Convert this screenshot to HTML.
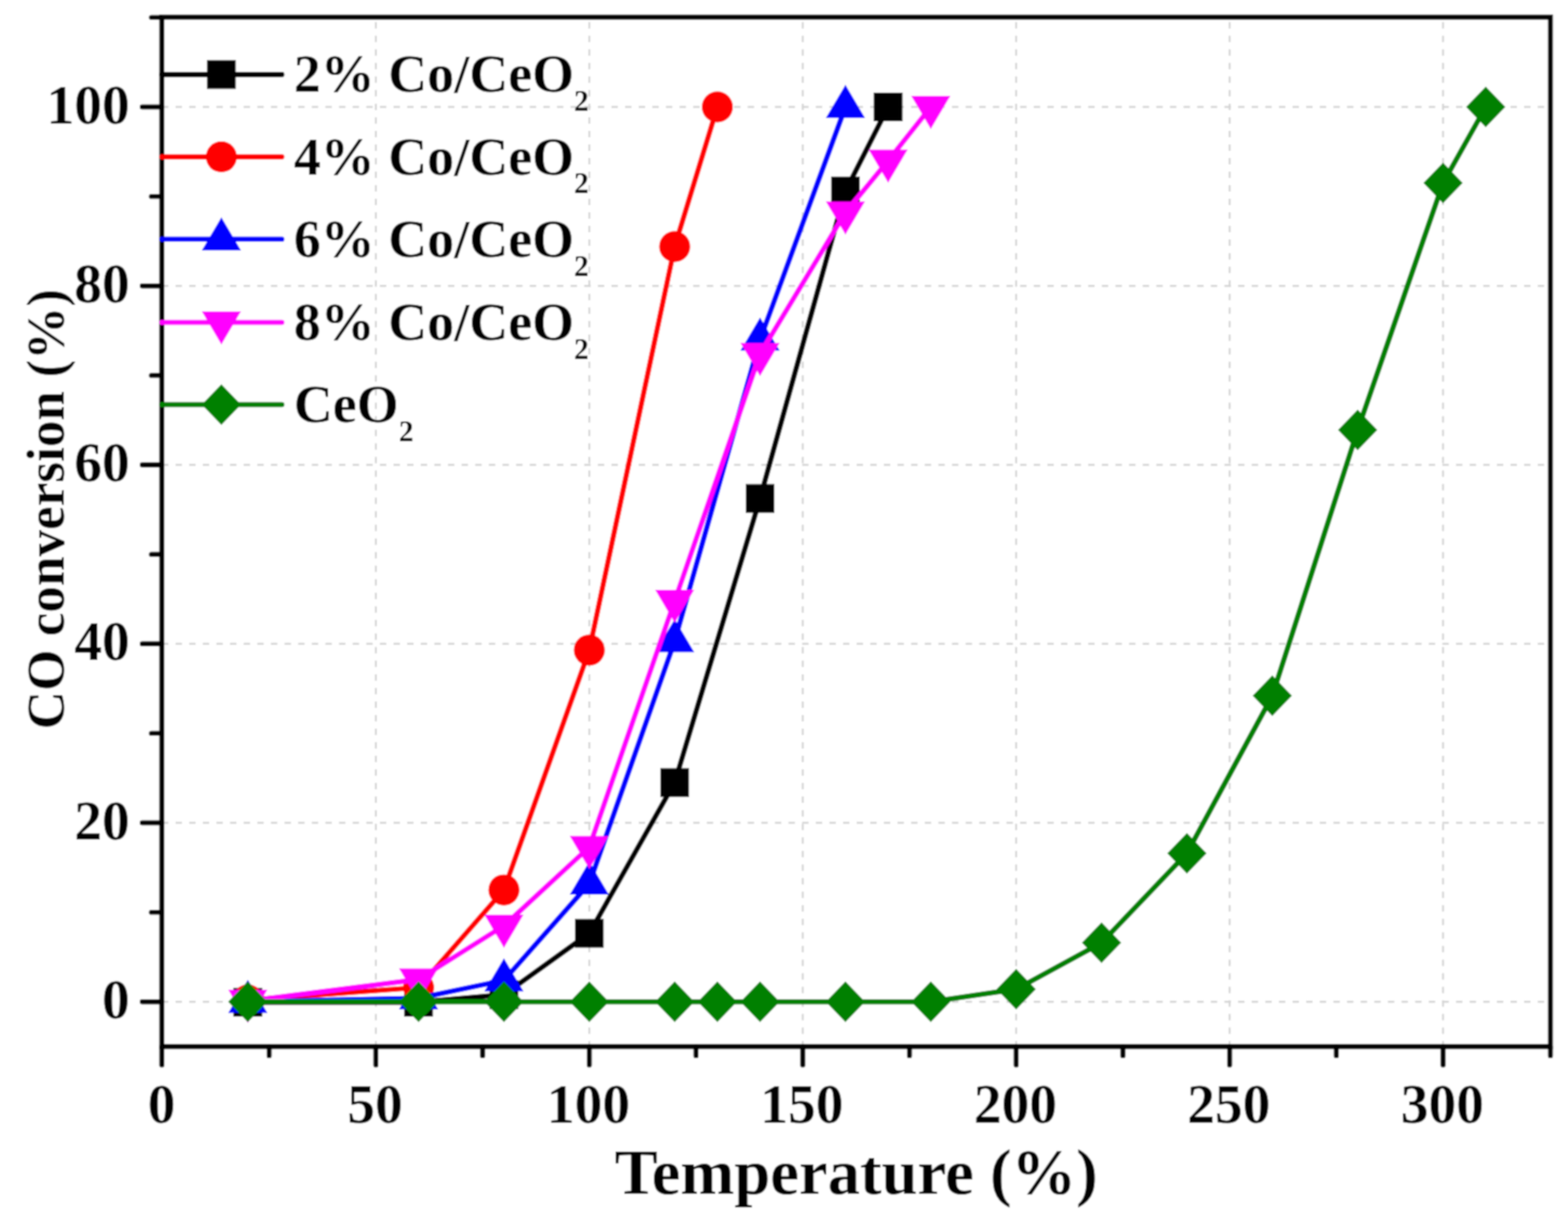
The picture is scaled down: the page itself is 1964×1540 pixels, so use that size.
<!DOCTYPE html>
<html><head><meta charset="utf-8"><title>CO conversion vs Temperature</title>
<style>html,body{margin:0;padding:0;background:#fff;overflow:hidden}svg{display:block}</style></head>
<body><svg width="1964" height="1540" viewBox="0 0 1964 1540">
<defs><filter id="soft" x="0" y="0" width="1964" height="1540" filterUnits="userSpaceOnUse"><feConvolveMatrix order="5 1" kernelMatrix="0.03766 0.23994 0.44481 0.23994 0.03766" preserveAlpha="true" edgeMode="duplicate" result="h"/><feConvolveMatrix in="h" order="1 5" kernelMatrix="0.03766 0.23994 0.44481 0.23994 0.03766" preserveAlpha="true" edgeMode="duplicate"/></filter></defs>
<g filter="url(#soft)">
<rect x="0" y="0" width="1964" height="1540" fill="#ffffff"/>
<g stroke="#d4d4d4" stroke-width="2.4"><line x1="203.46" y1="1255.30" x2="1941.17" y2="1255.30" stroke-dasharray="8 9.062" stroke-dashoffset="0.61"/><line x1="203.46" y1="1031.04" x2="1941.17" y2="1031.04" stroke-dasharray="8 9.062" stroke-dashoffset="0.61"/><line x1="203.46" y1="806.78" x2="1941.17" y2="806.78" stroke-dasharray="8 9.062" stroke-dashoffset="0.61"/><line x1="203.46" y1="582.52" x2="1941.17" y2="582.52" stroke-dasharray="8 9.062" stroke-dashoffset="0.61"/><line x1="203.46" y1="358.26" x2="1941.17" y2="358.26" stroke-dasharray="8 9.062" stroke-dashoffset="0.61"/><line x1="203.46" y1="134.00" x2="1941.17" y2="134.00" stroke-dasharray="8 9.062" stroke-dashoffset="0.61"/><line x1="470.80" y1="21.87" x2="470.80" y2="1311.37" stroke-dasharray="8 9.024" stroke-dashoffset="11.16"/><line x1="738.14" y1="21.87" x2="738.14" y2="1311.37" stroke-dasharray="8 9.024" stroke-dashoffset="11.16"/><line x1="1005.48" y1="21.87" x2="1005.48" y2="1311.37" stroke-dasharray="8 9.024" stroke-dashoffset="11.16"/><line x1="1272.82" y1="21.87" x2="1272.82" y2="1311.37" stroke-dasharray="8 9.024" stroke-dashoffset="11.16"/><line x1="1540.16" y1="21.87" x2="1540.16" y2="1311.37" stroke-dasharray="8 9.024" stroke-dashoffset="11.16"/><line x1="1807.50" y1="21.87" x2="1807.50" y2="1311.37" stroke-dasharray="8 9.024" stroke-dashoffset="11.16"/></g>
<polyline points="310.40,1255.86 524.27,1255.86 631.20,1246.33 738.14,1169.52 845.08,980.58 952.01,624.57 1058.95,239.40 1112.42,134.00" fill="none" stroke="#000000" stroke-width="6.6" stroke-linejoin="round"/>
<rect x="292.40" y="1237.86" width="36" height="36" fill="#000000"/><rect x="506.27" y="1237.86" width="36" height="36" fill="#000000"/><rect x="613.20" y="1228.33" width="36" height="36" fill="#000000"/><rect x="720.14" y="1151.52" width="36" height="36" fill="#000000"/><rect x="827.08" y="962.58" width="36" height="36" fill="#000000"/><rect x="934.01" y="606.57" width="36" height="36" fill="#000000"/><rect x="1040.95" y="221.40" width="36" height="36" fill="#000000"/><rect x="1094.42" y="116.00" width="36" height="36" fill="#000000"/>
<polyline points="310.40,1253.06 524.27,1237.36 631.20,1115.14 738.14,814.63 845.08,308.92 898.54,134.00" fill="none" stroke="#ff0000" stroke-width="6.6" stroke-linejoin="round"/>
<circle cx="310.40" cy="1253.06" r="19.5" fill="#ff0000"/><circle cx="524.27" cy="1237.36" r="19.5" fill="#ff0000"/><circle cx="631.20" cy="1115.14" r="19.5" fill="#ff0000"/><circle cx="738.14" cy="814.63" r="19.5" fill="#ff0000"/><circle cx="845.08" cy="308.92" r="19.5" fill="#ff0000"/><circle cx="898.54" cy="134.00" r="19.5" fill="#ff0000"/>
<polyline points="310.40,1255.30 524.27,1250.81 631.20,1228.39 738.14,1107.29 845.08,803.42 952.01,425.54 1058.95,134.00" fill="none" stroke="#0000ff" stroke-width="6.6" stroke-linejoin="round"/>
<polygon points="310.40,1227.63 334.90,1269.13 285.90,1269.13" fill="#0000ff"/><polygon points="524.27,1223.15 548.77,1264.65 499.77,1264.65" fill="#0000ff"/><polygon points="631.20,1200.72 655.70,1242.22 606.70,1242.22" fill="#0000ff"/><polygon points="738.14,1079.62 762.64,1121.12 713.64,1121.12" fill="#0000ff"/><polygon points="845.08,775.75 869.58,817.25 820.58,817.25" fill="#0000ff"/><polygon points="952.01,397.87 976.51,439.37 927.51,439.37" fill="#0000ff"/><polygon points="1058.95,106.33 1083.45,147.83 1034.45,147.83" fill="#0000ff"/>
<polyline points="310.40,1254.18 524.27,1227.27 631.20,1159.99 738.14,1061.32 845.08,752.96 952.01,443.48 1058.95,266.31 1112.42,201.28 1165.88,134.00" fill="none" stroke="#ff00ff" stroke-width="6.6" stroke-linejoin="round"/>
<polygon points="285.90,1240.35 334.90,1240.35 310.40,1281.85" fill="#ff00ff"/><polygon points="499.77,1213.43 548.77,1213.43 524.27,1254.93" fill="#ff00ff"/><polygon points="606.70,1146.16 655.70,1146.16 631.20,1187.66" fill="#ff00ff"/><polygon points="713.64,1047.48 762.64,1047.48 738.14,1088.98" fill="#ff00ff"/><polygon points="820.58,739.12 869.58,739.12 845.08,780.62" fill="#ff00ff"/><polygon points="927.51,429.65 976.51,429.65 952.01,471.15" fill="#ff00ff"/><polygon points="1034.45,252.48 1083.45,252.48 1058.95,293.98" fill="#ff00ff"/><polygon points="1087.92,187.44 1136.92,187.44 1112.42,228.94" fill="#ff00ff"/><polygon points="1141.38,120.17 1190.38,120.17 1165.88,161.67" fill="#ff00ff"/>
<polyline points="310.40,1255.30 524.27,1255.30 631.20,1255.30 738.14,1255.30 845.08,1255.30 898.54,1255.30 952.01,1255.30 1058.95,1255.30 1165.88,1255.30 1272.82,1239.60 1379.76,1181.29 1486.69,1069.16 1593.63,871.82 1700.56,538.79 1807.50,229.31 1860.97,134.00" fill="none" stroke="#008000" stroke-width="6.6" stroke-linejoin="round"/>
<polygon points="310.40,1229.80 335.00,1255.30 310.40,1280.80 285.80,1255.30" fill="#008000"/><polygon points="524.27,1229.80 548.87,1255.30 524.27,1280.80 499.67,1255.30" fill="#008000"/><polygon points="631.20,1229.80 655.80,1255.30 631.20,1280.80 606.60,1255.30" fill="#008000"/><polygon points="738.14,1229.80 762.74,1255.30 738.14,1280.80 713.54,1255.30" fill="#008000"/><polygon points="845.08,1229.80 869.68,1255.30 845.08,1280.80 820.48,1255.30" fill="#008000"/><polygon points="898.54,1229.80 923.14,1255.30 898.54,1280.80 873.94,1255.30" fill="#008000"/><polygon points="952.01,1229.80 976.61,1255.30 952.01,1280.80 927.41,1255.30" fill="#008000"/><polygon points="1058.95,1229.80 1083.55,1255.30 1058.95,1280.80 1034.35,1255.30" fill="#008000"/><polygon points="1165.88,1229.80 1190.48,1255.30 1165.88,1280.80 1141.28,1255.30" fill="#008000"/><polygon points="1272.82,1214.10 1297.42,1239.60 1272.82,1265.10 1248.22,1239.60" fill="#008000"/><polygon points="1379.76,1155.79 1404.36,1181.29 1379.76,1206.79 1355.16,1181.29" fill="#008000"/><polygon points="1486.69,1043.66 1511.29,1069.16 1486.69,1094.66 1462.09,1069.16" fill="#008000"/><polygon points="1593.63,846.32 1618.23,871.82 1593.63,897.32 1569.03,871.82" fill="#008000"/><polygon points="1700.56,513.29 1725.16,538.79 1700.56,564.29 1675.96,538.79" fill="#008000"/><polygon points="1807.50,203.81 1832.10,229.31 1807.50,254.81 1782.90,229.31" fill="#008000"/><polygon points="1860.97,108.50 1885.57,134.00 1860.97,159.50 1836.37,134.00" fill="#008000"/>
<g stroke="#000" stroke-width="6.4" stroke-linecap="round" fill="none"><rect x="202.7" y="21.5" width="1739.30" height="1289.90" fill="none" stroke-linejoin="miter"/><line x1="178.20" y1="1255.30" x2="202.70" y2="1255.30"/><line x1="178.20" y1="1031.04" x2="202.70" y2="1031.04"/><line x1="178.20" y1="806.78" x2="202.70" y2="806.78"/><line x1="178.20" y1="582.52" x2="202.70" y2="582.52"/><line x1="178.20" y1="358.26" x2="202.70" y2="358.26"/><line x1="178.20" y1="134.00" x2="202.70" y2="134.00"/><line x1="189.70" y1="1143.17" x2="202.70" y2="1143.17"/><line x1="189.70" y1="918.91" x2="202.70" y2="918.91"/><line x1="189.70" y1="694.65" x2="202.70" y2="694.65"/><line x1="189.70" y1="470.39" x2="202.70" y2="470.39"/><line x1="189.70" y1="246.13" x2="202.70" y2="246.13"/><line x1="189.70" y1="21.87" x2="202.70" y2="21.87"/><line x1="202.70" y1="1311.40" x2="202.70" y2="1334.40"/><line x1="470.80" y1="1311.40" x2="470.80" y2="1334.40"/><line x1="738.14" y1="1311.40" x2="738.14" y2="1334.40"/><line x1="1005.48" y1="1311.40" x2="1005.48" y2="1334.40"/><line x1="1272.82" y1="1311.40" x2="1272.82" y2="1334.40"/><line x1="1540.16" y1="1311.40" x2="1540.16" y2="1334.40"/><line x1="1807.50" y1="1311.40" x2="1807.50" y2="1334.40"/><line x1="337.13" y1="1311.40" x2="337.13" y2="1322.90"/><line x1="604.47" y1="1311.40" x2="604.47" y2="1322.90"/><line x1="871.81" y1="1311.40" x2="871.81" y2="1322.90"/><line x1="1139.15" y1="1311.40" x2="1139.15" y2="1322.90"/><line x1="1406.49" y1="1311.40" x2="1406.49" y2="1322.90"/><line x1="1673.83" y1="1311.40" x2="1673.83" y2="1322.90"/><line x1="1942.00" y1="1311.40" x2="1942.00" y2="1322.90"/></g>
<g font-family="'Liberation Serif', 'Times New Roman', serif" font-weight="bold" font-size="69.5" fill="#000"><text x="162.5" y="1275.80" text-anchor="end">0</text><text x="162.5" y="1051.54" text-anchor="end">20</text><text x="162.5" y="827.28" text-anchor="end">40</text><text x="162.5" y="603.02" text-anchor="end">60</text><text x="162.5" y="378.76" text-anchor="end">80</text><text x="162.5" y="154.50" text-anchor="end">100</text><text x="202.46" y="1406.6" text-anchor="middle">0</text><text x="469.80" y="1406.6" text-anchor="middle">50</text><text x="737.14" y="1406.6" text-anchor="middle">100</text><text x="1004.48" y="1406.6" text-anchor="middle">150</text><text x="1271.82" y="1406.6" text-anchor="middle">200</text><text x="1539.16" y="1406.6" text-anchor="middle">250</text><text x="1806.50" y="1406.6" text-anchor="middle">300</text></g>
<text font-family="'Liberation Serif', 'Times New Roman', serif" font-weight="bold" font-size="81" x="1072.32" y="1496" text-anchor="middle">Temperature (%)</text>
<text font-family="'Liberation Serif', 'Times New Roman', serif" font-weight="bold" font-size="68" transform="translate(79.5,638) rotate(-90)" text-anchor="middle" textLength="552" lengthAdjust="spacingAndGlyphs">CO conversion (%)</text>
<line x1="202.70" y1="93.4" x2="353" y2="93.4" stroke="#000000" stroke-width="6.6" stroke-linecap="round"/>
<rect x="259.30" y="75.40" width="36" height="36" fill="#000000"/>
<text font-family="'Liberation Serif', 'Times New Roman', serif" font-weight="bold" font-size="67.6" x="368" y="115.30" fill="#000">2% Co/CeO<tspan font-size="37" dy="23.8">2</tspan></text>
<line x1="202.70" y1="196.6" x2="353" y2="196.6" stroke="#ff0000" stroke-width="6.6" stroke-linecap="round"/>
<circle cx="277.30" cy="196.60" r="19.5" fill="#ff0000"/>
<text font-family="'Liberation Serif', 'Times New Roman', serif" font-weight="bold" font-size="67.6" x="368" y="218.50" fill="#000">4% Co/CeO<tspan font-size="37" dy="23.8">2</tspan></text>
<line x1="202.70" y1="299.8" x2="353" y2="299.8" stroke="#0000ff" stroke-width="6.6" stroke-linecap="round"/>
<polygon points="277.30,272.13 301.80,313.63 252.80,313.63" fill="#0000ff"/>
<text font-family="'Liberation Serif', 'Times New Roman', serif" font-weight="bold" font-size="67.6" x="368" y="321.70" fill="#000">6% Co/CeO<tspan font-size="37" dy="23.8">2</tspan></text>
<line x1="202.70" y1="404.0" x2="353" y2="404.0" stroke="#ff00ff" stroke-width="6.6" stroke-linecap="round"/>
<polygon points="252.80,390.17 301.80,390.17 277.30,431.67" fill="#ff00ff"/>
<text font-family="'Liberation Serif', 'Times New Roman', serif" font-weight="bold" font-size="67.6" x="368" y="425.90" fill="#000">8% Co/CeO<tspan font-size="37" dy="23.8">2</tspan></text>
<line x1="202.70" y1="507.0" x2="353" y2="507.0" stroke="#008000" stroke-width="6.6" stroke-linecap="round"/>
<polygon points="277.30,481.50 301.90,507.00 277.30,532.50 252.70,507.00" fill="#008000"/>
<text font-family="'Liberation Serif', 'Times New Roman', serif" font-weight="bold" font-size="67.6" x="368" y="528.90" fill="#000">CeO<tspan font-size="37" dy="23.8">2</tspan></text>
</g>
</svg></body></html>
